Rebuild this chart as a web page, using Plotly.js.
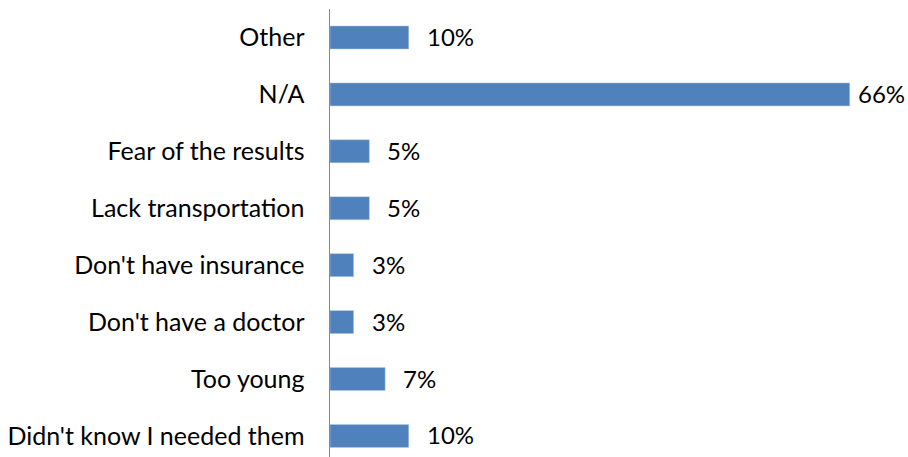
<!DOCTYPE html>
<html><head><meta charset="utf-8">
<script src="https://cdn.plot.ly/plotly-3.0.1.min.js"></script>
<style>html,body{margin:0;padding:0;background:#fff}#chart{width:908px;height:457px}</style>
</head><body><div id="chart"></div>
<script>
const categories = ["Didn't know I needed them","Too young","Don't have a doctor","Don't have insurance","Lack transportation","Fear of the results","N/A","Other"];
const values = [10, 7, 3, 3, 5, 5, 66, 10];
const labels = values.map(v => v + '%');

const FONT = 'Lato, "Open Sans", sans-serif';
const XMAX = 73.4;
const trace = {
  type: 'bar', orientation: 'h',
  y: categories, x: values,
  marker: {color: '#4F81BD', line: {color: '#B9CDE5', width: 0.5}},
  hoverinfo: 'skip'
};
const annotations = categories.map((c, i) => ({
  x: values[i], y: c, xref: 'x', yref: 'y', text: labels[i],
  showarrow: false, xanchor: 'left',
  xshift: values[i] > XMAX * 0.8 ? 6 : 16, yshift: 1,
  font: {family: FONT, size: 24, color: '#000'}
}));
Plotly.newPlot('chart', [trace], {
  width: 908, height: 457,
  margin: {l: 330, r: 0, t: 9, b: 0},
  paper_bgcolor: '#fff', plot_bgcolor: '#fff',
  bargap: 0.596,
  showlegend: false,
  xaxis: {range: [0, XMAX], showgrid: false, zeroline: false, showticklabels: false, showline: false},
  yaxis: {type: 'category', range: [-0.37, 7.5], showgrid: false, zeroline: false,
    showline: true, linecolor: '#878787', linewidth: 1.5, ticks: '',
    ticklabelstandoff: 19,
    tickfont: {family: FONT, size: 25, color: '#000'}},
  annotations: annotations
}, {displayModeBar: false, staticPlot: true});
</script></body></html>
